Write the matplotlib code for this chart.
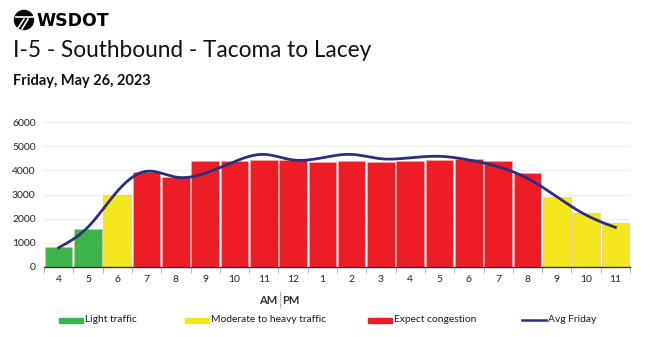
import numpy as np
import matplotlib.pyplot as plt
from matplotlib.patches import Ellipse, Rectangle
from matplotlib.lines import Line2D

plt.rcParams['font.family'] = ['Lato', 'DejaVu Sans']

hours = ['4', '5', '6', '7', '8', '9', '10', '11', '12', '1',
         '2', '3', '4', '5', '6', '7', '8', '9', '10', '11']
volume = [830, 1560, 2990, 3930, 3710, 4390, 4390, 4440, 4410, 4360,
          4390, 4340, 4390, 4440, 4480, 4390, 3880, 2880, 2220, 1810]
level = ['light', 'light', 'moderate', 'congested', 'congested', 'congested',
         'congested', 'congested', 'congested', 'congested', 'congested',
         'congested', 'congested', 'congested', 'congested', 'congested',
         'congested', 'moderate', 'moderate', 'moderate']
avg_friday = [800, 1650, 3130, 3960, 3720, 3880, 4360, 4660, 4430, 4520,
              4660, 4480, 4520, 4580, 4430, 4150, 3670, 2910, 2150, 1640]

colors = {'light': '#3db44a', 'moderate': '#f2e81c', 'congested': '#ec1d25'}
line_color = '#2b2f7d'
labels = {'light': 'Light traffic', 'moderate': 'Moderate to heavy traffic',
          'congested': 'Expect congestion'}

W, H = 650, 337


def fx(px):
    return px / W


def fy(py):
    return 1 - py / H


def smooth(x, y, n=400):
    # natural cubic spline, only used to draw the curve smoothly
    x = np.asarray(x, float)
    y = np.asarray(y, float)
    k = len(x)
    h = np.diff(x)
    A = np.zeros((k, k))
    b = np.zeros(k)
    A[0, 0] = A[-1, -1] = 1
    for i in range(1, k - 1):
        A[i, i - 1] = h[i - 1]
        A[i, i] = 2 * (h[i - 1] + h[i])
        A[i, i + 1] = h[i]
        b[i] = 3 * ((y[i + 1] - y[i]) / h[i] - (y[i] - y[i - 1]) / h[i - 1])
    c = np.linalg.solve(A, b)
    xs = np.linspace(x[0], x[-1], n)
    idx = np.clip(np.searchsorted(x, xs) - 1, 0, k - 2)
    dx = xs - x[idx]
    bb = (y[idx + 1] - y[idx]) / h[idx] - h[idx] * (2 * c[idx] + c[idx + 1]) / 3
    dd = (c[idx + 1] - c[idx]) / (3 * h[idx])
    ys = y[idx] + bb * dx + c[idx] * dx ** 2 + dd * dx ** 3
    return xs, ys


fig = plt.figure(figsize=(6.5, 3.37), dpi=100)
ax = fig.add_axes([fx(44), fy(267), fx(630) - fx(44), fy(122) - fy(267)])

x = np.arange(len(hours))
ax.bar(x, volume, width=0.94, color=[colors[l] for l in level],
       edgecolor='#f6b0b0', linewidth=0.4, zorder=2)
xs, ys = smooth(x, avg_friday)
ax.plot(xs, ys, color=line_color, linewidth=2, zorder=3)

ax.set_xlim(-0.5, len(hours) - 0.5)
ax.set_ylim(0, 6000)
ax.set_yticks(np.arange(0, 6001, 1000))
ax.tick_params(axis='y', length=0, labelsize=7.5, colors='#222222', pad=6)
ax.set_xticks(x)
ax.set_xticklabels(hours)
ax.set_xticks(np.arange(-0.5, len(hours), 1), minor=True)
ax.tick_params(axis='x', which='major', length=0, labelsize=7.5,
               colors='#222222', pad=6)
ax.tick_params(axis='x', which='minor', length=4, color='#aaaaaa')
ax.grid(axis='y', color='#eeeeee', linewidth=1, zorder=0)
for s in ['top', 'right', 'left']:
    ax.spines[s].set_visible(False)
ax.spines['bottom'].set_color('#333333')
ax.spines['bottom'].set_linewidth(1)

# AM | PM marker
fig.text(fx(277), fy(300), 'AM', ha='right', va='center', fontsize=8,
         fontweight='bold', color='#333333')
fig.text(fx(282), fy(300), 'PM', ha='left', va='center', fontsize=8,
         fontweight='bold', color='#333333')
fig.add_artist(Line2D([fx(279.5), fx(279.5)], [fy(292), fy(308)],
                      color='#777777', linewidth=0.8, linestyle=(0, (1, 1))))

# legend
leg_y = 320
for px, key in [(59, 'light'), (185, 'moderate'), (368, 'congested')]:
    fig.add_artist(Rectangle((fx(px), fy(leg_y + 2.5)), fx(24), 5 / H,
                             color=colors[key], transform=fig.transFigure))
    fig.text(fx(px + 26), fy(leg_y), labels[key], va='center', fontsize=7.4,
             color='#1a1a1a')
fig.add_artist(Line2D([fx(522), fx(546)], [fy(leg_y), fy(leg_y)],
                      color=line_color, linewidth=1.8))
fig.text(fx(548), fy(leg_y), 'Avg Friday', va='center', fontsize=7.4,
         color='#1a1a1a')

# header
fig.add_artist(Ellipse((fx(24), fy(20)), fx(19), 19 / H, color='black',
                       transform=fig.transFigure))
fig.add_artist(Line2D([fx(16), fx(33)], [fy(17), fy(17)], color='white',
                      linewidth=1.2))
fig.add_artist(Line2D([fx(18), fx(24)], [fy(28), fy(19)], color='white',
                      linewidth=1.2))
fig.add_artist(Line2D([fx(22), fx(28)], [fy(29), fy(19)], color='white',
                      linewidth=1.2))
fig.text(fx(36), fy(20.5), 'WSDOT', va='center', ha='left',
         fontsize=12.5, fontweight='bold', family='DejaVu Sans',
         color='black')
fig.text(fx(13), fy(57), 'I-5 - Southbound - Tacoma to Lacey',
         va='baseline', ha='left', fontsize=16.3, color='#111111')
fig.text(fx(13), fy(85), 'Friday, May 26, 2023', va='baseline',
         ha='left', fontsize=10.5, fontweight='bold', color='#111111')

fig.savefig('out.png', dpi=100)
